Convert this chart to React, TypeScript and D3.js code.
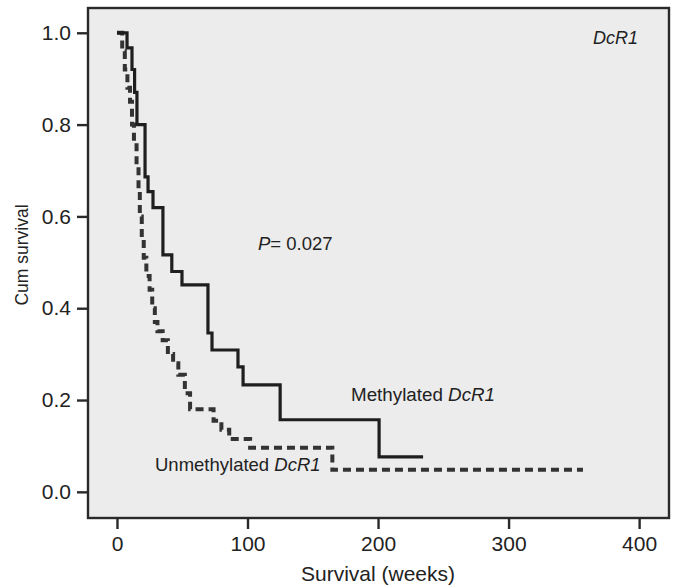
import * as d3 from 'd3';
import { useEffect, useRef } from 'react';

// Kaplan-Meier steps (weeks, cumulative survival)
const methTimes = [0, 7.7, 11.5, 13.5, 15.3, 21.5, 23.8, 27.6, 35.2, 42, 49.8, 69.7, 72.8, 92.7, 96.6, 125, 200.8];
const methSurv = [1, 0.967, 0.92, 0.87, 0.8, 0.686, 0.654, 0.619, 0.516, 0.48, 0.451, 0.346, 0.309, 0.272, 0.233, 0.157, 0.076];
const methEnd = 234.5;

const unmethTimes = [0, 4, 6, 8, 10, 11.5, 13, 15, 16.5, 17.5, 19, 20.5, 22.5, 25, 27, 29, 31, 35, 39, 43, 47, 52, 56, 74, 80, 86, 102, 165];
const unmethSurv = [1, 0.96, 0.92, 0.88, 0.85, 0.8, 0.76, 0.71, 0.66, 0.6, 0.55, 0.51, 0.47, 0.44, 0.4, 0.37, 0.35, 0.33, 0.3, 0.28, 0.255, 0.215, 0.18, 0.155, 0.135, 0.115, 0.096, 0.048];
const unmethEnd = 357;

const xTicks = [0, 100, 200, 300, 400];
const yTicks = [0, 0.2, 0.4, 0.6, 0.8, 1.0];

const W = 676;
const H = 588;
const FONT = '"Liberation Sans", Arial, sans-serif';

const App = () => {
  const svgRef = useRef<SVGSVGElement>(null);

  useEffect(() => {
    const svg = d3.select(svgRef.current);
    svg.selectAll('*').remove();

    // plot box
    const box = { left: 88, right: 669, top: 8, bottom: 518 };
    const x = d3.scaleLinear().domain([-22.2, 422.9]).range([box.left, box.right]);
    const y = d3.scaleLinear().domain([-0.057, 1.054]).range([box.bottom, box.top]);

    svg.append('rect')
      .attr('x', box.left)
      .attr('y', box.top)
      .attr('width', box.right - box.left)
      .attr('height', box.bottom - box.top)
      .attr('fill', '#ececec')
      .attr('stroke', '#2a2a2a')
      .attr('stroke-width', 2.4);

    // axes
    const yAxis = svg.append('g')
      .attr('transform', `translate(${box.left - 1},0)`)
      .call(d3.axisLeft(y).tickValues(yTicks).tickFormat(d3.format('.1f')).tickSize(10).tickPadding(6));
    const xAxis = svg.append('g')
      .attr('transform', `translate(0,${box.bottom + 1})`)
      .call(d3.axisBottom(x).tickValues(xTicks).tickFormat(d3.format('d')).tickSize(10).tickPadding(7));
    [xAxis, yAxis].forEach((g) => {
      g.select('.domain').remove();
      g.selectAll('.tick line').attr('stroke', '#2a2a2a').attr('stroke-width', 2.4);
      g.selectAll('.tick text').attr('fill', '#222').style('font-family', FONT).style('font-size', '21px');
    });

    const line = d3.line<[number, number]>()
      .x((d) => x(d[0]))
      .y((d) => y(d[1]))
      .curve(d3.curveStepAfter);

    const unmethPts: [number, number][] = unmethTimes.map((t, i) => [t, unmethSurv[i]]);
    unmethPts.push([unmethEnd, unmethSurv[unmethSurv.length - 1]]);
    const methPts: [number, number][] = methTimes.map((t, i) => [t, methSurv[i]]);
    methPts.push([methEnd, methSurv[methSurv.length - 1]]);

    svg.append('path')
      .datum(unmethPts)
      .attr('d', line)
      .attr('fill', 'none')
      .attr('stroke', '#333')
      .attr('stroke-width', 4)
      .attr('stroke-dasharray', '8,5');

    svg.append('path')
      .datum(methPts)
      .attr('d', line)
      .attr('fill', 'none')
      .attr('stroke', '#1e1e1e')
      .attr('stroke-width', 3.2);

    // annotations
    const label = (tx: number, ty: number, size: number) =>
      svg.append('text')
        .attr('x', tx)
        .attr('y', ty)
        .attr('fill', '#222')
        .style('font-family', FONT)
        .style('font-size', `${size}px`);

    const p = label(258, 250, 18.5);
    p.append('tspan').style('font-style', 'italic').text('P');
    p.append('tspan').text('= 0.027');

    const m = label(351, 401, 18.8);
    m.append('tspan').text('Methylated ');
    m.append('tspan').style('font-style', 'italic').text('DcR1');

    const u = label(155, 471, 18.5);
    u.append('tspan').text('Unmethylated ');
    u.append('tspan').style('font-style', 'italic').text('DcR1');

    label(593, 44, 18).style('font-style', 'italic').text('DcR1');

    label(378, 581, 21).attr('text-anchor', 'middle').text('Survival (weeks)');
    label(0, 0, 17.5)
      .attr('text-anchor', 'middle')
      .attr('transform', 'translate(28,255) rotate(-90)')
      .text('Cum survival');
  }, []);

  return <svg ref={svgRef} width={W} height={H} style={{ position: 'absolute', left: 0, top: 0, background: '#fff' }} />;
};

export default App;
